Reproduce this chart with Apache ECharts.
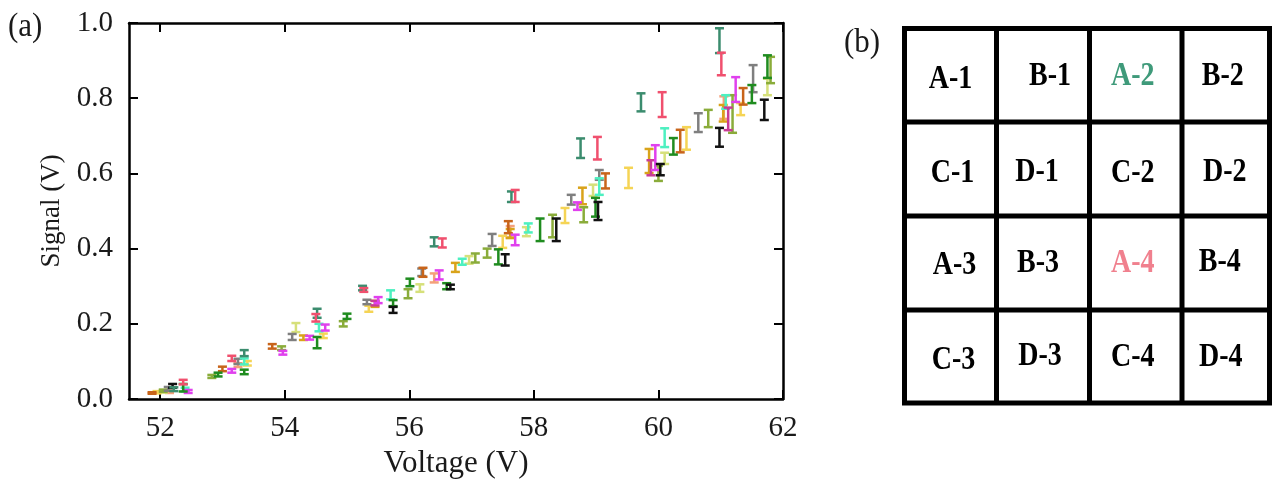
<!DOCTYPE html>
<html>
<head>
<meta charset="utf-8">
<script src="https://cdn.jsdelivr.net/npm/echarts@6/dist/echarts.min.js"></script>
<style>
html,body{margin:0;padding:0;background:#fff;}
#chart{width:1272px;height:479px;}
</style>
</head>
<body>
<div id="chart"></div>
<script>
// ---- data: [voltage, signal, half error] ----
const tealPts = [[52.22,0.026,0.005],[53.35,0.122,0.008],[54.52,0.228,0.012],[55.25,0.295,0.006],[56.4,0.418,0.012],[57.64,0.538,0.014],[58.75,0.667,0.026],[59.72,0.789,0.024],[60.98,0.953,0.033]];
const pinkPts = [[52.37,0.045,0.006],[53.15,0.108,0.007],[54.5,0.216,0.01],[55.27,0.29,0.005],[56.53,0.415,0.012],[57.7,0.54,0.016],[59.02,0.667,0.03],[60.06,0.783,0.033],[61.01,0.891,0.03]];
const grayPts = [[52.13,0.027,0.005],[53.25,0.1,0.007],[54.12,0.165,0.008],[55.32,0.258,0.006],[56.2,0.337,0.01],[57.33,0.423,0.016],[58.6,0.53,0.013],[59.05,0.596,0.013],[60.64,0.735,0.025],[61.52,0.852,0.036]];
const orangePts = [[51.87,0.016,0.002],[53.0,0.08,0.006],[53.8,0.14,0.006],[56.22,0.337,0.012],[57.59,0.457,0.016],[59.15,0.58,0.02],[60.35,0.686,0.03],[61.36,0.805,0.022]];
const yellowPts = [[51.95,0.018,0.003],[53.4,0.095,0.006],[54.62,0.168,0.006],[55.35,0.24,0.008],[57.5,0.418,0.016],[58.5,0.488,0.02],[59.52,0.588,0.027],[60.45,0.693,0.03],[61.32,0.771,0.016]];
const lightYellowPts = [[52.05,0.02,0.003],[54.18,0.19,0.012],[56.17,0.295,0.01],[56.96,0.37,0.01],[57.88,0.445,0.012],[58.95,0.555,0.015],[60.1,0.64,0.015],[61.75,0.83,0.022]];
const olivePts = [[52.05,0.022,0.003],[52.83,0.06,0.004],[53.95,0.135,0.005],[54.94,0.2,0.007],[55.98,0.28,0.012],[57.06,0.375,0.012],[57.25,0.388,0.012],[58.3,0.46,0.03],[58.8,0.49,0.02],[60.0,0.6,0.02],[60.8,0.746,0.023],[61.19,0.758,0.05],[61.8,0.875,0.035]];
const greenPts = [[52.37,0.03,0.01],[52.93,0.065,0.005],[53.35,0.072,0.006],[54.52,0.15,0.015],[55.0,0.22,0.007],[55.74,0.255,0.008],[56.01,0.31,0.01],[56.6,0.3,0.008],[57.43,0.378,0.02],[58.1,0.45,0.03],[58.99,0.51,0.025],[60.24,0.672,0.022],[61.5,0.811,0.024],[61.75,0.884,0.03]];
const blackPts = [[52.2,0.035,0.005],[55.74,0.237,0.008],[56.66,0.298,0.006],[57.54,0.37,0.015],[58.36,0.45,0.03],[59.03,0.5,0.024],[60.03,0.61,0.015],[60.98,0.696,0.025],[61.7,0.769,0.027]];
const magentaPts = [[52.45,0.02,0.004],[53.15,0.075,0.005],[53.97,0.123,0.005],[54.4,0.163,0.005],[54.65,0.19,0.008],[55.5,0.263,0.008],[56.48,0.33,0.012],[57.7,0.423,0.014],[58.7,0.513,0.01],[59.95,0.642,0.033],[61.24,0.823,0.033]];
const purplePts = [[55.45,0.255,0.006],[59.88,0.615,0.02],[61.12,0.745,0.03]];
const aquaPts = [[52.4,0.025,0.005],[53.35,0.1,0.008],[54.55,0.19,0.01],[55.7,0.277,0.012],[56.85,0.365,0.008],[57.91,0.455,0.012],[59.05,0.565,0.022],[60.1,0.695,0.025],[61.08,0.79,0.018]];
const goldPts = [[54.3,0.163,0.006],[55.45,0.253,0.008],[56.74,0.35,0.012],[57.62,0.44,0.012],[58.78,0.54,0.022],[59.85,0.633,0.032],[61.04,0.76,0.022]];
const salmonPts = [[52.15,0.02,0.004],[53.25,0.09,0.005],[56.4,0.322,0.012],[57.62,0.445,0.015],[61.05,0.775,0.03]];

const seriesList = [
  ['salmon', salmonPts, '#f4a07a'],
  ['lightyellow', lightYellowPts, '#d6e07a'],
  ['yellow', yellowPts, '#f5d455'],
  ['gold', goldPts, '#d9a31a'],
  ['olive', olivePts, '#8aac3a'],
  ['gray', grayPts, '#7f7f7f'],
  ['orange', orangePts, '#c8641a'],
  ['aqua', aquaPts, '#4df0c0'],
  ['purple', purplePts, '#c83c96'],
  ['magenta', magentaPts, '#e040ee'],
  ['green', greenPts, '#1f8c1f'],
  ['black', blackPts, '#111111'],
  ['teal', tealPts, '#3b8c6e'],
  ['pink', pinkPts, '#f0506e']
];

const xTicks = [52, 54, 56, 58, 60, 62];
const yTicks = [0, 0.2, 0.4, 0.6, 0.8, 1.0];

const cellLabels = [
  ['A-1','B-1','A-2','B-2'],
  ['C-1','D-1','C-2','D-2'],
  ['A-3','B-3','A-4','B-4'],
  ['C-3','D-3','C-4','D-4']
];
const cellColors = {'A-2':'#3f9a7a','A-4':'#f0808e'};
// small per-cell offsets of label centres (as in the figure)
const cellOffsets = [
  [[0,4],[7,1],[-3,1],[-3,1]],
  [[2,4],[-6,3],[-3,4],[-1,3]],
  [[4,2],[-5,0],[-3,0],[-6,-1]],
  [[3,4],[-3,0],[-3,1],[-5,1]]
];

const FONT = '"Liberation Serif","Times New Roman",serif';
const chart = echarts.init(document.getElementById('chart'));

function errBar(params, api) {
  const x = api.value(0), y = api.value(1), e = api.value(2);
  const top = api.coord([x, y + e]);
  const bot = api.coord([x, y - e]);
  const hw = 4.5;
  const st = {stroke: api.visual('color'), lineWidth: 2.5, fill: null};
  return {
    type: 'group',
    children: [
      {type:'line', shape:{x1:top[0], y1:top[1], x2:bot[0], y2:bot[1]}, style: st},
      {type:'line', shape:{x1:top[0]-hw, y1:top[1], x2:top[0]+hw, y2:top[1]}, style: st},
      {type:'line', shape:{x1:bot[0]-hw, y1:bot[1], x2:bot[0]+hw, y2:bot[1]}, style: st}
    ]
  };
}

// table graphic
const gx = [904.5, 996.5, 1089.5, 1182, 1269.5];
const gy = [28.5, 122, 216, 310, 403];
const graphics = [];
graphics.push({type:'rect', shape:{x:gx[0], y:gy[0], width:gx[4]-gx[0], height:gy[4]-gy[0]}, style:{fill:'#fff', stroke:'#000', lineWidth:5}});
for (let i = 1; i < 4; i++) {
  graphics.push({type:'line', shape:{x1:gx[i], y1:gy[0], x2:gx[i], y2:gy[4]}, style:{stroke:'#000', lineWidth:5}});
  graphics.push({type:'line', shape:{x1:gx[0], y1:gy[i], x2:gx[4], y2:gy[i]}, style:{stroke:'#000', lineWidth:5}});
}
for (let r = 0; r < 4; r++) {
  for (let c = 0; c < 4; c++) {
    const lab = cellLabels[r][c];
    const cx = (gx[c] + gx[c+1]) / 2 + cellOffsets[r][c][0];
    const cy = (gy[r] + gy[r+1]) / 2 + cellOffsets[r][c][1];
    graphics.push({type:'text', x:cx, y:cy, scaleY:1.18,
      style:{text:lab, fontFamily:FONT, fontWeight:'bold', fontSize:28, fill: cellColors[lab] || '#000', align:'center', verticalAlign:'middle'}});
  }
}
graphics.push({type:'text', x:8, y:27, scaleY:1.1, style:{text:'(a)', fontFamily:FONT, fontSize:31, fill:'#1a1a1a', verticalAlign:'middle'}});
graphics.push({type:'text', x:844, y:43, scaleY:1.1, style:{text:'(b)', fontFamily:FONT, fontSize:31, fill:'#1a1a1a', verticalAlign:'middle'}});

const option = {
  animation: false,
  backgroundColor: '#fff',
  grid: {left:129, right:489, top:23, bottom:80, containLabel:false, outerBoundsMode:'none'},
  xAxis: [
    {type:'value', min:51.5, max:62, position:'bottom',
     name:'Voltage (V)', nameLocation:'middle', nameGap:49,
     nameTextStyle:{fontFamily:FONT, fontSize:31, color:'#1a1a1a'},
     axisLine:{show:true, onZero:false, lineStyle:{color:'#000', width:2.5}},
     axisTick:{show:true, inside:true, length:9, lineStyle:{color:'#000', width:2}, customValues:xTicks},
     axisLabel:{show:true, customValues:xTicks, margin:15, fontFamily:FONT, fontSize:29, color:'#1a1a1a'},
     splitLine:{show:false}},
    {type:'value', min:51.5, max:62, position:'top',
     axisLine:{show:true, onZero:false, lineStyle:{color:'#000', width:2.5}},
     axisTick:{show:true, inside:true, length:9, lineStyle:{color:'#000', width:2}, customValues:xTicks},
     axisLabel:{show:false}, splitLine:{show:false}}
  ],
  yAxis: [
    {type:'value', min:0, max:1, interval:0.2, position:'left',
     name:'Signal (V)', nameLocation:'middle', nameGap:60,
     nameTextStyle:{fontFamily:FONT, fontSize:27, color:'#1a1a1a'},
     axisLine:{show:true, onZero:false, lineStyle:{color:'#000', width:2.5}},
     axisTick:{show:true, inside:true, length:9, lineStyle:{color:'#000', width:2}},
     axisLabel:{show:true, margin:16, fontFamily:FONT, fontSize:29, color:'#1a1a1a', formatter: v => v.toFixed(1)},
     splitLine:{show:false}},
    {type:'value', min:0, max:1, interval:0.2, position:'right',
     axisLine:{show:true, onZero:false, lineStyle:{color:'#000', width:2.5}},
     axisTick:{show:true, inside:true, length:9, lineStyle:{color:'#000', width:2}},
     axisLabel:{show:false}, splitLine:{show:false}}
  ],
  series: seriesList.map(([name, pts, color]) => ({
    type:'custom', name, data: pts, renderItem: errBar,
    itemStyle:{color}, xAxisIndex:0, yAxisIndex:0,
    encode:{x:0, y:[1]}, clip:false
  })),
  graphic: graphics
};
chart.setOption(option);
</script>
</body>
</html>
